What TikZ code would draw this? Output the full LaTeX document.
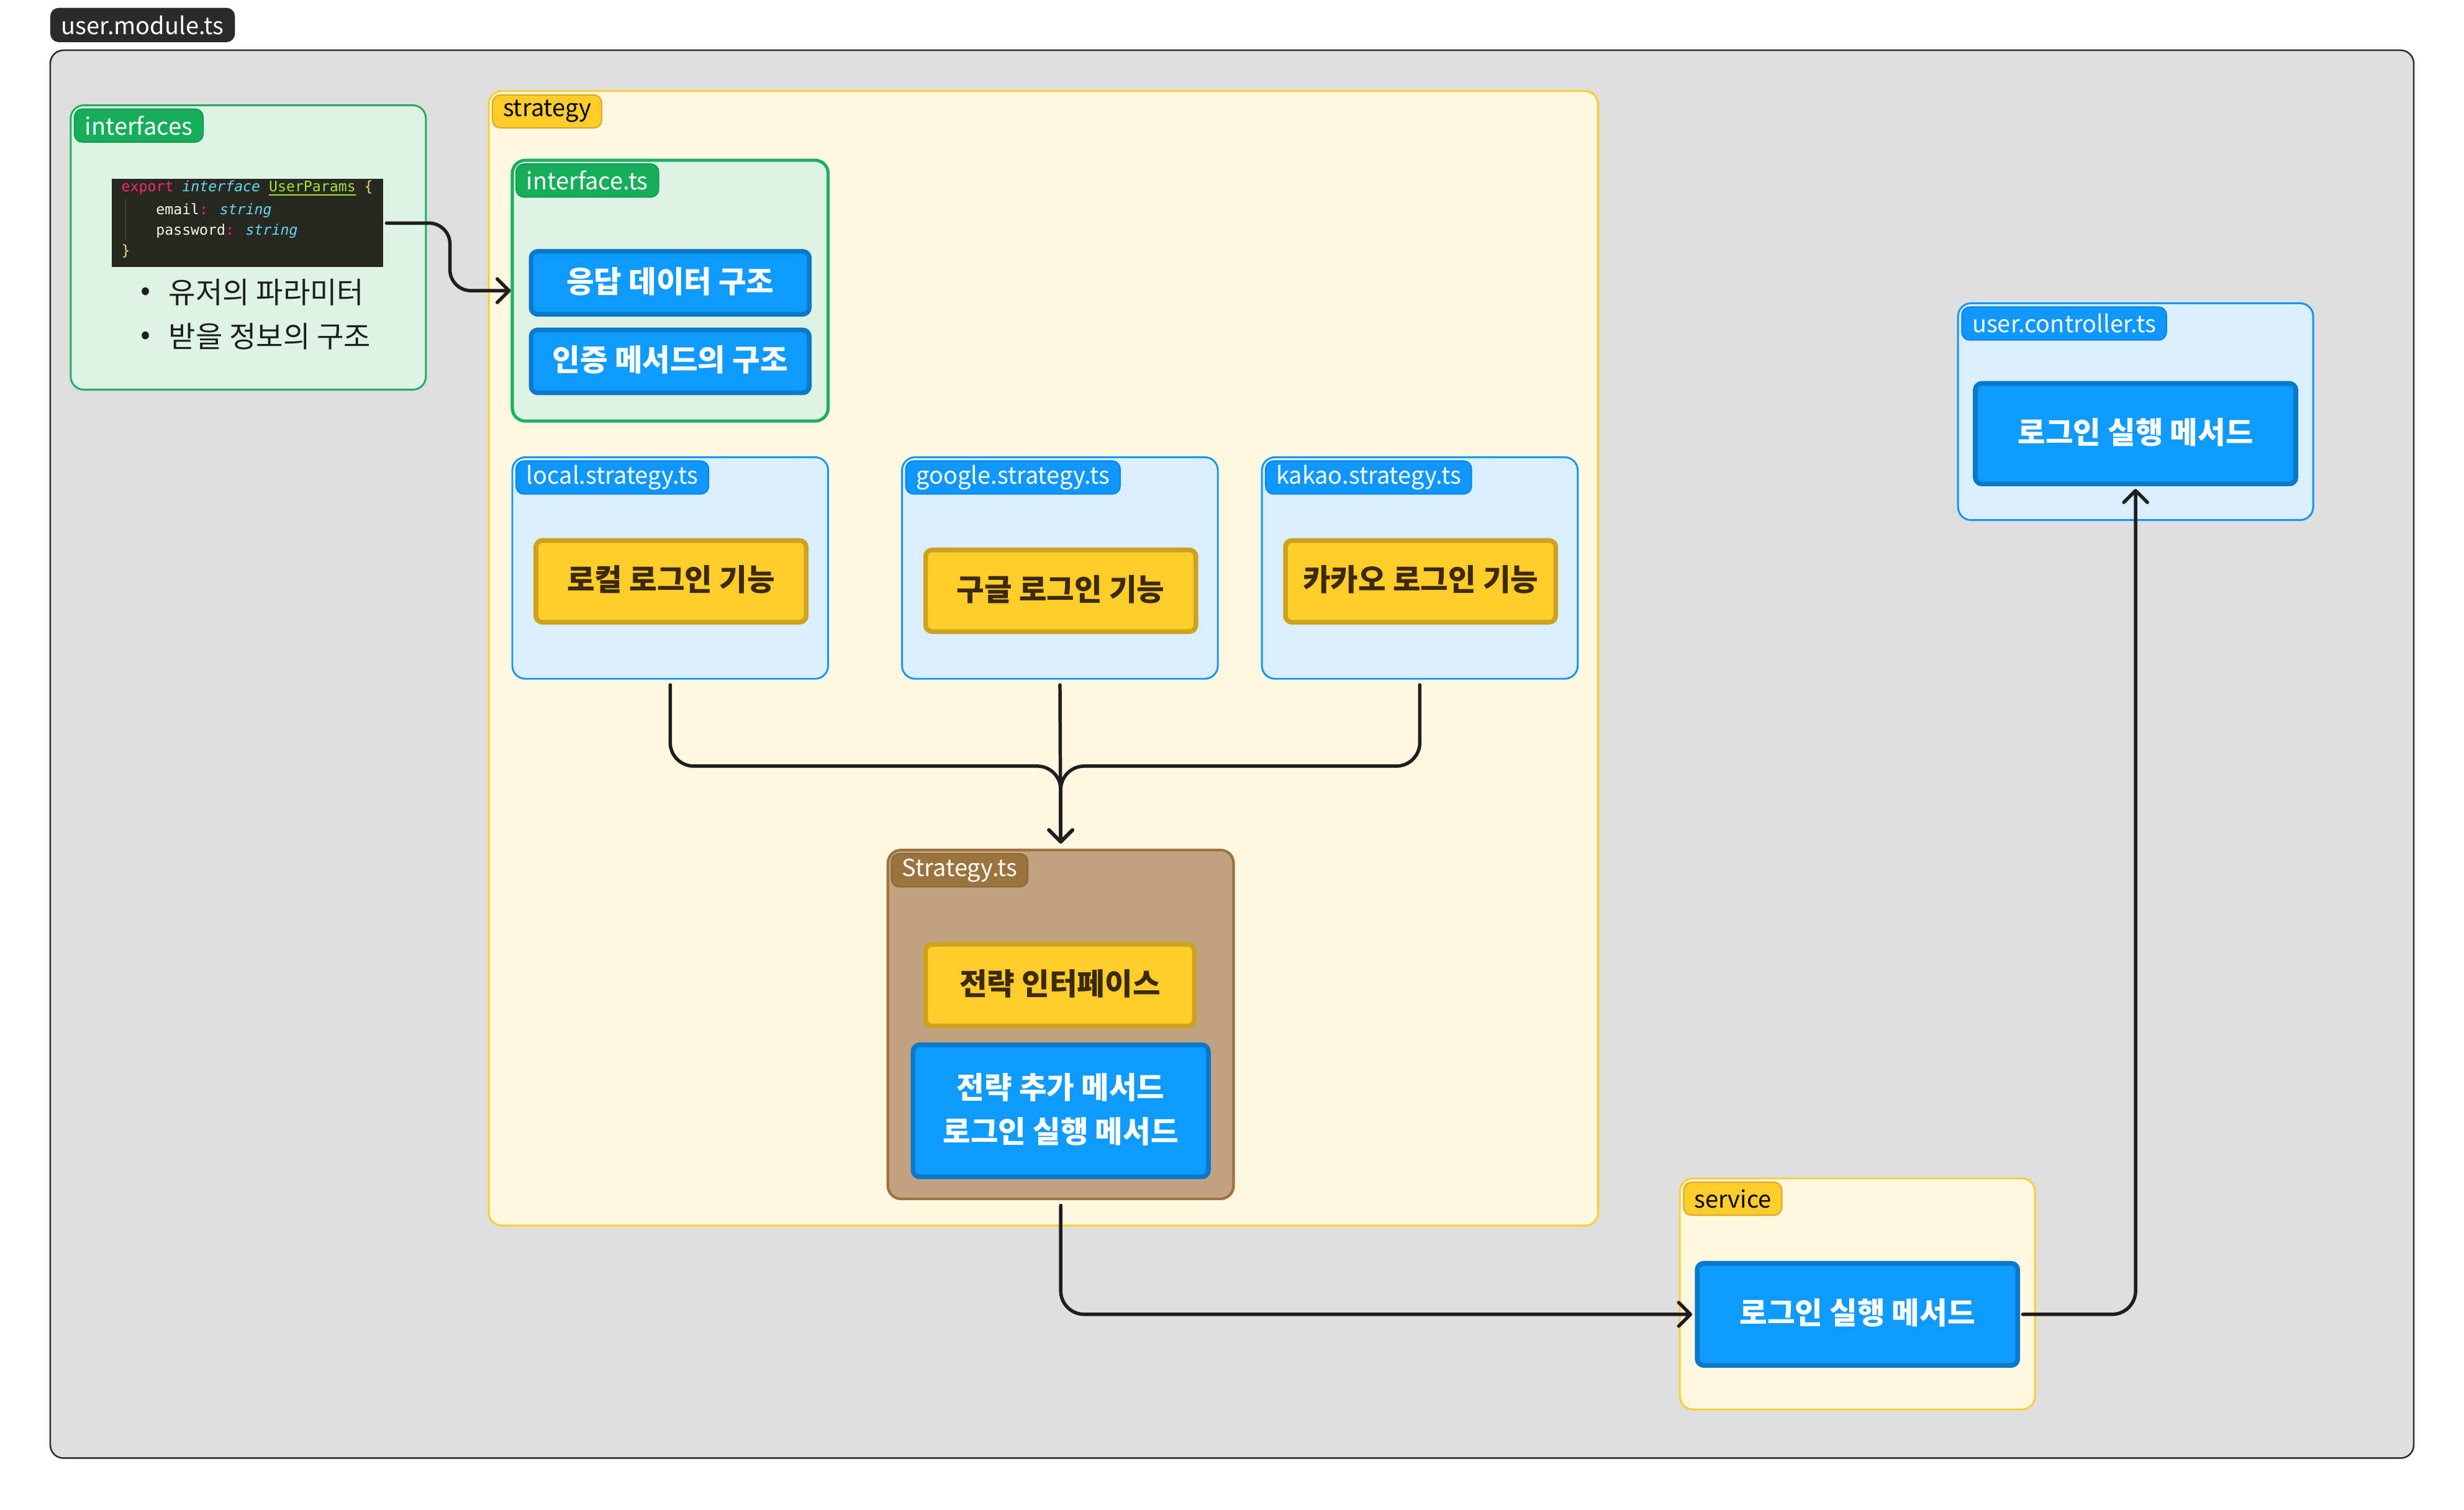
\documentclass[tikz,border=0pt]{standalone}
\usepackage{fontspec}
\setmainfont{Noto Sans CJK KR}
\newfontfamily\codefont{DejaVu Sans Mono}
\usetikzlibrary{arrows.meta,fit}
\definecolor{outerfill}{HTML}{DEDEDE}
\definecolor{darkc}{HTML}{2B2B2B}
\definecolor{gfill}{HTML}{DCF3E6}
\definecolor{gline}{HTML}{1BB05F}
\definecolor{gtagc}{HTML}{16AE5B}
\definecolor{gtagl}{HTML}{139A50}
\definecolor{yfill}{HTML}{FFF7E0}
\definecolor{yline}{HTML}{FFCD2A}
\definecolor{ytagl}{HTML}{DBAA23}
\definecolor{bfill}{HTML}{DBEEFD}
\definecolor{bline}{HTML}{1097FF}
\definecolor{btagl}{HTML}{0B86E0}
\definecolor{brfill}{HTML}{C0A27F}
\definecolor{brline}{HTML}{9A733E}
\definecolor{brtagl}{HTML}{8A6535}
\definecolor{bbtn}{HTML}{0F9AFF}
\definecolor{bbtnl}{HTML}{0B78C9}
\definecolor{ybtn}{HTML}{FFCD2A}
\definecolor{ybtnl}{HTML}{CCA21E}
\definecolor{ytext}{HTML}{3B2A05}
\definecolor{linec}{HTML}{1E1E1E}
\definecolor{codebg}{HTML}{272822}
\definecolor{cpink}{HTML}{F92672}
\definecolor{ccyan}{HTML}{66D9EF}
\definecolor{cgreen}{HTML}{A6E22E}
\definecolor{cyel}{HTML}{E6DB74}
\definecolor{cwhite}{HTML}{F8F8F2}
\begin{document}
\begin{tikzpicture}[x=0.6pt,y=-0.6pt,
  cont/.style={draw, rounded corners=5pt, inner sep=0pt, line width=0.7pt},
  outerbox/.style={cont, fill=outerfill, draw=darkc, line width=0.6pt},
  greenc/.style={cont, fill=gfill, draw=gline},
  yelc/.style={cont, fill=yfill, draw=yline},
  bluec/.style={cont, fill=bfill, draw=bline},
  brownc/.style={cont, fill=brfill, draw=brline, line width=1pt},
  btnfont/.style={font=\bfseries\fontsize{11.5}{16.5}\selectfont, text height=0.82em, text depth=0.08em},
  btn/.style={draw, rounded corners=2.5pt, inner sep=0pt, line width=1.8pt},
  bluebtn/.style={btn, fill=bbtn, draw=bbtnl},
  yelbtn/.style={btn, fill=ybtn, draw=ybtnl},
  btntext/.style={inner sep=0pt, text=white, btnfont},
  ybtntext/.style={inner sep=0pt, text=ytext, btnfont},
  tag/.style={anchor=north west, draw, rounded corners=3pt, inner xsep=4pt, inner ysep=0pt,
    minimum height=12.6pt, line width=0.5pt, font=\fontsize{9}{10}\selectfont},
  gtag/.style={tag, fill=gtagc, draw=gtagl, text=white},
  ytag/.style={tag, fill=yline, draw=ytagl, text=black},
  btag/.style={tag, fill=bline, draw=btagl, text=white},
  brtag/.style={tag, fill=brline, draw=brtagl, text=white},
  dtag/.style={tag, fill=darkc, draw=darkc, text=white},
  codeline/.style={anchor=west, inner sep=0pt, font=\codefont\fontsize{5.5}{6}\selectfont},
  bullettext/.style={anchor=west, inner sep=0pt, text=linec, font=\fontsize{11.2}{13}\selectfont,
    text height=0.82em, text depth=0.08em},
  bulletdot/.style={anchor=west, inner sep=0pt, text=linec, font=\fontsize{11.2}{13}\selectfont},
  conn/.style={draw=linec, line width=1.3pt, rounded corners=9pt, line cap=round,
    -{Straight Barb[length=4.5pt,width=9pt,round]}}
]
\useasboundingbox[fill=white] (0,0) rectangle (1568,961);

% outer module
\node[outerbox, fit={(32,32)(1536,928)}] (module) {};
\node[dtag] (moduletag) at (32,5) {user.module.ts};

% interfaces
\node[greenc, fit={(45,67)(271,248)}] (interfaces) {};
\node[gtag] (interfacestag) at (47,69) {interfaces};
\node[fill=codebg, inner sep=0pt, fit={(71,114)(244,170)}] (code) {};
\draw[gray!60!black, line width=0.4pt] (80,126) -- (80,153);
\node[codeline] (cl1) at (77,120) {\textcolor{cpink}{export} \textcolor{ccyan}{\itshape interface} \textcolor{cgreen}{\underline{UserParams}} \textcolor{cyel}{\{}};
\node[codeline] (cl2) at (99,134) {\textcolor{cwhite}{email}\textcolor{cpink}{:} \textcolor{ccyan}{\itshape string}};
\node[codeline] (cl3) at (99,147) {\textcolor{cwhite}{password}\textcolor{cpink}{:} \textcolor{ccyan}{\itshape string}};
\node[codeline] (cl4) at (77,160) {\textcolor{cyel}{\}}};
\node[bulletdot] (b1dot) at (89,187) {•};
\node[bullettext] (b1) at (107,187) {유저의 파라미터};
\node[bulletdot] (b2dot) at (89,215) {•};
\node[bullettext] (b2) at (107,215) {받을 정보의 구조};

% strategy folder
\node[yelc, fit={(311,58)(1017,780)}] (strategy) {};
\node[ytag] (strategytag) at (313,60) {strategy};

% interface.ts
\node[greenc, line width=1.2pt, fit={(326,102)(527,268)}] (ifc) {};
\node[gtag] (ifctag) at (328,104) {interface.ts};
\node[bluebtn, fit={(338,160)(515,200)}] (resp) {};
\node[btntext] (resptext) at (resp.center) {응답 데이터 구조};
\node[bluebtn, fit={(338,210)(515,250)}] (auth) {};
\node[btntext] (authtext) at (auth.center) {인증 메서드의 구조};

% local
\node[bluec, fit={(326,291)(527,432)}] (local) {};
\node[btag] (localtag) at (328,293) {local.strategy.ts};
\node[yelbtn, fit={(341,344)(513,396)}] (localbtn) {};
\node[ybtntext] (localtext) at (localbtn.center) {로컬 로그인 기능};

% google
\node[bluec, fit={(574,291)(775,432)}] (google) {};
\node[btag] (googletag) at (576,293) {google.strategy.ts};
\node[yelbtn, fit={(589,350)(761,402)}] (googlebtn) {};
\node[ybtntext] (googletext) at (googlebtn.center) {구글 로그인 기능};

% kakao
\node[bluec, fit={(803,291)(1004,432)}] (kakao) {};
\node[btag] (kakaotag) at (805,293) {kakao.strategy.ts};
\node[yelbtn, fit={(818,344)(990,396)}] (kakaobtn) {};
\node[ybtntext] (kakaotext) at (kakaobtn.center) {카카오 로그인 기능};

% Strategy.ts
\node[brownc, fit={(565,541)(785,763)}] (strat) {};
\node[brtag] (strattag) at (567,543) {Strategy.ts};
\node[yelbtn, fit={(589,601)(760,653)}] (stratif) {};
\node[ybtntext] (stratiftext) at (stratif.center) {전략 인터페이스};
\node[bluebtn, fit={(581,665)(769,749)}] (stratm) {};
\node[btntext] (stratm1) at (675,693) {전략 추가 메서드};
\node[btntext] (stratm2) at (675,721) {로그인 실행 메서드};

% service
\node[yelc, fit={(1069,750)(1295,897)}] (service) {};
\node[ytag] (servicetag) at (1071,752) {service};
\node[bluebtn, fit={(1080,804)(1284,869)}] (svcbtn) {};
\node[btntext] (svctext) at (svcbtn.center) {로그인 실행 메서드};

% controller
\node[bluec, fit={(1246,193)(1472,331)}] (ctrl) {};
\node[btag] (ctrltag) at (1248,195) {user.controller.ts};
\node[bluebtn, fit={(1257,244)(1461,308)}] (ctrlbtn) {};
\node[btntext] (ctrltext) at (ctrlbtn.center) {로그인 실행 메서드};

% connectors
\draw[conn, rounded corners=8pt, shorten <=1pt] (code.east) -- ++(42,0) |- (ifc.west);
\draw[conn, shorten <=2pt, shorten >=2pt] (local.south) -- ++(0,55) -| (strat.north);
\draw[conn, shorten <=2pt, shorten >=2pt] (google.south) -- (strat.north);
\draw[conn, shorten <=2pt, shorten >=2pt] (kakao.south) -- ++(0,55) -| (strat.north);
\draw[conn, shorten <=2pt, shorten >=1pt] (strat.south) |- (svcbtn.west);
\draw[conn, shorten <=1pt, shorten >=1pt] (svcbtn.east) -| (ctrlbtn.south);
\end{tikzpicture}
\end{document}
